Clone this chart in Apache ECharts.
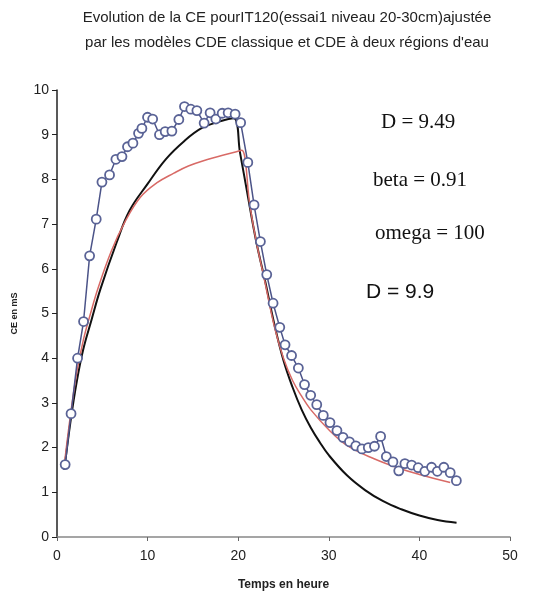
<!DOCTYPE html>
<html><head><meta charset="utf-8">
<script src="https://cdn.jsdelivr.net/npm/echarts@6/dist/echarts.min.js"></script>
<style>html,body{margin:0;padding:0;background:#fff}#c{width:545px;height:600px}</style>
</head><body><div id="c"></div>
<script>
// Observed CE (circles)
const obsTime = [0.9,1.55,2.27,2.93,3.6,4.33,4.96,5.8,6.5,7.17,7.78,8.38,9.0,9.37,9.99,10.56,11.31,11.94,12.68,13.45,14.07,14.77,15.44,16.24,16.9,17.53,18.23,18.89,19.66,20.27,21.06,21.75,22.45,23.15,23.85,24.59,25.17,25.89,26.64,27.32,28.0,28.67,29.39,30.13,30.9,31.57,32.28,32.98,33.66,34.36,35.04,35.72,36.35,37.08,37.72,38.4,39.14,39.87,40.6,41.34,41.98,42.7,43.4,44.08];
const obsCE = [1.62,2.76,4.0,4.82,6.29,7.11,7.94,8.10,8.45,8.51,8.73,8.81,9.03,9.14,9.39,9.35,9.0,9.07,9.08,9.34,9.63,9.57,9.54,9.26,9.49,9.35,9.48,9.49,9.46,9.27,8.38,7.43,6.61,5.87,5.23,4.69,4.30,4.06,3.78,3.41,3.17,2.96,2.72,2.56,2.38,2.23,2.13,2.04,1.97,2.0,2.03,2.25,1.80,1.68,1.48,1.64,1.61,1.55,1.47,1.56,1.47,1.56,1.44,1.26];
// CDE classique (black)
const cdeTime = [0.8,1.5,2.2,2.9,3.8,4.8,6.6,8,10,12,14,16,18,19.5,20.2,21,22,23,24,25,26,27,28,29,30,32,34,36,38,40,42,44.1];
const cdeCE = [1.5,2.6,3.5,4.2,4.85,5.55,6.6,7.3,7.9,8.45,8.85,9.15,9.3,9.37,8.6,7.7,6.6,5.7,4.75,3.95,3.35,2.85,2.45,2.12,1.83,1.38,1.05,0.8,0.62,0.48,0.38,0.32];
// CDE a deux regions d'eau (red)
const mimTime = [0.8,1.5,2.2,2.9,3.7,4.5,6,7.5,9.2,11,12.9,14.5,16.5,18.5,19.8,20.4,21.3,22,22.8,24,25,26,27,28,30,32,35,38,40,43.4];
const mimCE = [1.6,2.75,3.7,4.4,5.0,5.55,6.4,7.05,7.6,7.92,8.14,8.3,8.44,8.55,8.62,8.65,7.4,6.6,5.85,4.7,4.0,3.5,3.15,2.85,2.4,2.05,1.75,1.52,1.4,1.22];
const xTicks = [0,10,20,30,40,50];
const yTicks = [0,1,2,3,4,5,6,7,8,9,10];

const zip = (a,b)=>a.map((v,i)=>[v,b[i]]);
const chart = echarts.init(document.getElementById('c'));
chart.setOption({
  animation:false,
  backgroundColor:'#fff',
  title:{
    text:"Evolution de la CE pourIT120(essai1 niveau 20-30cm)ajustée\npar les modèles CDE classique et CDE à deux régions d'eau",
    left:282, top:0, textAlign:'center',
    textStyle:{fontFamily:'Liberation Sans, Arial',fontSize:15,fontWeight:'normal',color:'#222',lineHeight:25}
  },
  grid:{left:57,right:35,top:90,bottom:63},
  xAxis:{type:'value',min:xTicks[0],max:xTicks[xTicks.length-1],interval:10,
    name:'Temps en heure',nameLocation:'middle',nameGap:42,
    nameTextStyle:{fontFamily:'Liberation Sans, Arial',fontSize:12,fontWeight:'bold',color:'#222'},
    axisLine:{lineStyle:{color:'#888',width:1.5}},
    axisTick:{length:4,lineStyle:{color:'#666'}},
    axisLabel:{fontFamily:'Liberation Sans, Arial',fontSize:14,color:'#222',margin:12},
    splitLine:{show:false}},
  yAxis:{type:'value',min:yTicks[0],max:yTicks[yTicks.length-1],interval:1,
    name:'CE en mS',nameLocation:'middle',nameGap:38,nameRotate:90,
    nameTextStyle:{fontFamily:'Liberation Sans, Arial',fontSize:9,fontWeight:'bold',color:'#222'},
    axisLine:{show:true,lineStyle:{color:'#222',width:1.5}},
    axisTick:{show:true,length:5,lineStyle:{color:'#222'}},
    axisLabel:{fontFamily:'Liberation Sans, Arial',fontSize:14,color:'#222',margin:8},
    splitLine:{show:false}},
  series:[
    {type:'line',data:zip(cdeTime,cdeCE),smooth:0.4,showSymbol:false,lineStyle:{color:'#111',width:2},z:3},
    {type:'line',data:zip(mimTime,mimCE),smooth:0.4,showSymbol:false,lineStyle:{color:'#d86a66',width:1.5},z:4},
    {type:'line',data:zip(obsTime,obsCE),symbol:'circle',symbolSize:9,
      itemStyle:{color:'#fff',borderColor:'#5a6396',borderWidth:1.8},
      lineStyle:{color:'#4b5388',width:1.5},z:5}
  ],
  graphic:[
    {type:'text',left:381,top:112,style:{text:'D = 9.49',font:'21px "Liberation Serif", serif',fill:'#111'}},
    {type:'text',left:373,top:170,style:{text:'beta = 0.91',font:'21px "Liberation Serif", serif',fill:'#111'}},
    {type:'text',left:375,top:223,style:{text:'omega = 100',font:'21px "Liberation Serif", serif',fill:'#111'}},
    {type:'text',left:366,top:282,style:{text:'D = 9.9',font:'21px "Liberation Sans", Arial',fill:'#111'}}
  ]
});
</script></body></html>
